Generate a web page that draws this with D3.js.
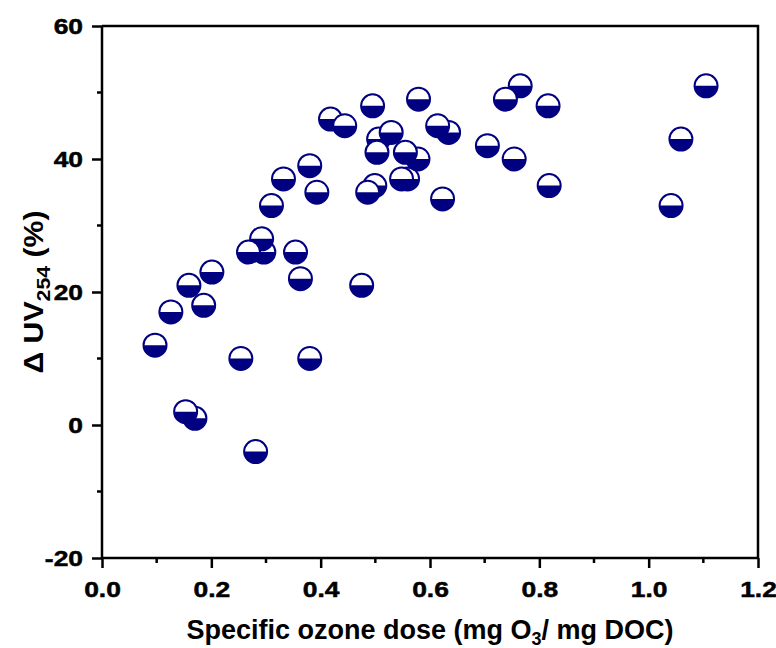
<!DOCTYPE html>
<html>
<head>
<meta charset="utf-8">
<script src="https://cdn.jsdelivr.net/npm/d3@7"></script>
<style>
  html, body { margin: 0; padding: 0; background: #fff; }
  svg { display: block; }
  text { font-family: "Liberation Sans", Arial, sans-serif; font-weight: bold; fill: #000; }
</style>
</head>
<body>
<svg id="chart" width="776" height="648"></svg>
<script>
// Specific ozone dose (mg O3 / mg DOC) and UV254 reduction (%), in drawing order
const doseValues = [0.097, 0.126, 0.170, 0.153, 0.159, 0.186, 0.201, 0.254, 0.296, 0.292, 0.268, 0.281,
  0.310, 0.332, 0.354, 0.363, 0.380, 0.380, 0.393, 0.418, 0.444, 0.475, 0.499, 0.486, 0.495, 0.506,
  0.503, 0.529, 0.559, 0.548, 0.578, 0.555, 0.579, 0.634, 0.614, 0.623, 0.705, 0.765, 0.738, 0.754,
  0.816, 0.818, 1.041, 1.059, 1.105];
const uvReduction = [12, 17, 1, 2, 21, 18, 23, 10, 26, 28, 26, -4,
  33, 37, 26, 22, 39, 10, 35, 46, 45, 21, 36, 35, 48, 43,
  41, 44, 37, 37, 40, 41, 49, 44, 45, 34, 42, 51, 49, 40,
  48, 36, 33, 43, 51];

const xTicks = [0.0, 0.2, 0.4, 0.6, 0.8, 1.0, 1.2];
const yTicks = [-20, 0, 20, 40, 60];
const xMinorTicks = [0.1, 0.3, 0.5, 0.7, 0.9, 1.1];
const yMinorTicks = [-10, 10, 30, 50];

const navy = "#000080";
const svg = d3.select("#chart");
const plotLeft = 102, plotRight = 758, plotTop = 26, plotBottom = 558;
const stretch = 1.2;   // wide bold lettering for tick labels

const x = d3.scaleLinear().domain([0, 1.2]).range([plotLeft, plotRight]);
const y = d3.scaleLinear().domain([-20, 60]).range([plotBottom, plotTop]);

// bottom axis with minor ticks
const xAxis = svg.append("g").attr("transform", `translate(0,${plotBottom})`)
  .call(d3.axisBottom(x).tickValues(xTicks).tickFormat(d3.format(".1f")).tickSize(10).tickPadding(13));
xAxis.append("g").selectAll("line").data(xMinorTicks).join("line")
  .attr("x1", d => x(d)).attr("x2", d => x(d)).attr("y1", 0).attr("y2", 5)
  .attr("stroke", "#000").attr("stroke-width", 2.5);

// left axis with minor ticks
const yAxis = svg.append("g").attr("transform", `translate(${plotLeft},0)`)
  .call(d3.axisLeft(y).tickValues(yTicks).tickFormat(d => String(d)).tickSize(10).tickPadding(9));
yAxis.append("g").selectAll("line").data(yMinorTicks).join("line")
  .attr("y1", d => y(d)).attr("y2", d => y(d)).attr("x1", 0).attr("x2", -5)
  .attr("stroke", "#000").attr("stroke-width", 2.5);

[xAxis, yAxis].forEach(g => g.attr("font-size", null).attr("font-family", null));
svg.selectAll(".domain").attr("stroke", "#000").attr("stroke-width", 2.5);
xAxis.select(".domain").attr("d", `M${plotLeft},0H${plotRight}`);
yAxis.select(".domain").attr("d", `M0,${plotTop}V${plotBottom}`);
svg.selectAll(".tick line").attr("stroke", "#000").attr("stroke-width", 2.5);
svg.selectAll(".tick text")
  .style("font-size", "22px").style("font-weight", "bold")
  .style("font-family", "'Liberation Sans', Arial, sans-serif").attr("fill", "#000")
  .attr("stroke", "#000").attr("stroke-width", 0.5);
yAxis.selectAll(".tick text").attr("x", -19 / stretch).attr("transform", `scale(${stretch},1)`);
xAxis.selectAll(".tick text").attr("transform", `scale(${stretch},1)`);

// frame: top and right edges
svg.append("path")
  .attr("d", `M${plotLeft},${plotTop}H${plotRight}V${plotBottom}`)
  .attr("fill", "none").attr("stroke", "#000").attr("stroke-width", 2.5);

// half-filled circle markers
const r = 11.5;
const pts = svg.append("g").selectAll("g").data(doseValues.map((d, i) => [d, uvReduction[i]])).join("g")
  .attr("transform", d => `translate(${x(d[0])},${y(d[1])})`);
pts.append("circle").attr("r", r).attr("fill", "#fff");
pts.append("path").attr("d", `M${-r},0A${r},${r} 0 0 0 ${r},0Z`).attr("fill", navy);
pts.append("circle").attr("r", r).attr("fill", "none").attr("stroke", navy).attr("stroke-width", 2);

// axis titles
const xt = svg.append("text").attr("x", (plotLeft + plotRight) / 2).attr("y", 639)
  .attr("text-anchor", "middle").style("font-size", "27px");
xt.append("tspan").text("Specific ozone dose (mg O");
xt.append("tspan").style("font-size", "18px").attr("dy", 6).text("3");
xt.append("tspan").attr("dy", -6).text("/ mg DOC)");

const yt = svg.append("text")
  .attr("transform", `translate(43,${(plotTop + plotBottom) / 2}) rotate(-90) scale(1.12,1)`)
  .attr("text-anchor", "middle").style("font-size", "27px");
yt.append("tspan").text("Δ UV");
yt.append("tspan").style("font-size", "19px").attr("dy", 7).text("254");
yt.append("tspan").attr("dy", -7).text(" (%)");
</script>
</body>
</html>
